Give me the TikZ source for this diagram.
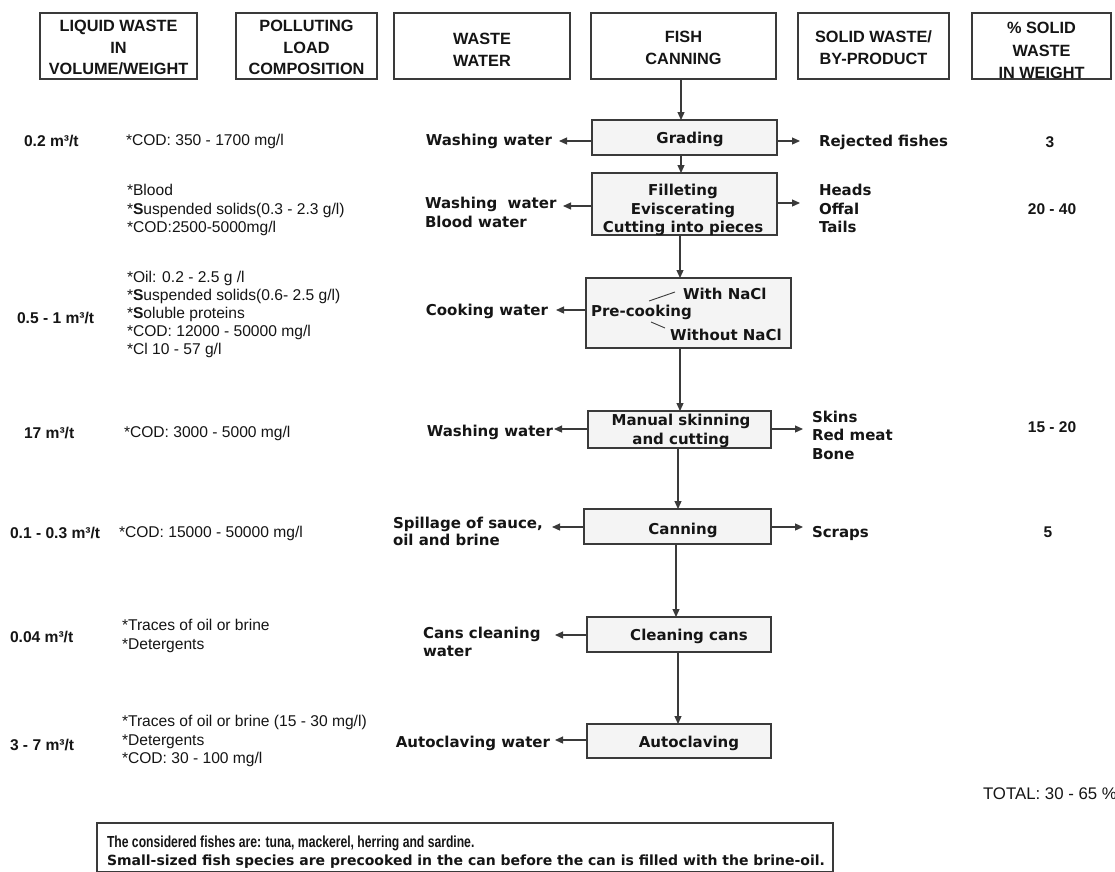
\documentclass[tikz,border=0pt]{standalone}
\usepackage{fontspec}
\setmainfont{Liberation Sans}
\newfontfamily\flowfont{DejaVu Sans}
\newfontfamily\narrowfont{Liberation Sans}[FakeStretch=0.76]
\usetikzlibrary{arrows.meta}

\definecolor{inkc}{HTML}{151515}
\definecolor{linec}{HTML}{3A3A3A}
\definecolor{boxfill}{HTML}{F4F4F4}

% type sizes (1pt = 1px of the finished picture)
\newcommand\hdrtype{\bfseries\fontsize{16.3}{21.5}\selectfont}
\newcommand\flowtype{\flowfont\bfseries\fontsize{15}{18.5}\selectfont}
\newcommand\loadtype{\fontsize{15.6}{18.2}\selectfont}
\newcommand\voltype{\bfseries\fontsize{15.6}{18}\selectfont}

\begin{document}
\begin{tikzpicture}[x=1pt,y=-1pt,
  every node/.style={inner sep=0pt, outer sep=0pt, text=inkc},
  hdrbox/.style={draw=linec, line width=1.2pt, fill=white},
  stepbox/.style={draw=linec, line width=1.2pt, fill=boxfill},
  hdrtext/.style={align=center, font=\hdrtype},
  flowlbl/.style={align=left, font=\flowtype},
  flowctr/.style={align=center, font=\flowtype},
  loadlbl/.style={align=left, anchor=west, font=\loadtype},
  vollbl/.style={anchor=west, font=\voltype},
  pctlbl/.style={font=\bfseries\fontsize{15.5}{18}\selectfont},
  arr/.style={draw=linec, line width=1.2pt, -{Triangle[length=8pt,width=7pt]}}
]
\useasboundingbox[fill=white] (0,0) rectangle (1115,871);

% ---------- column headers ----------
\node[hdrbox, minimum width=157pt, minimum height=66pt] (h1) at (118.5,46) {};
\node[hdrbox, minimum width=141pt, minimum height=66pt] (h2) at (306.5,46) {};
\node[hdrbox, minimum width=176pt, minimum height=66pt] (h3) at (482,46) {};
\node[hdrbox, minimum width=185pt, minimum height=66pt] (h4) at (683.5,46) {};
\node[hdrbox, minimum width=151pt, minimum height=66pt] (h5) at (873.5,46) {};
\node[hdrbox, minimum width=139pt, minimum height=66pt] (h6) at (1041.5,46) {};

\node[hdrtext] (h1t) at (118.5,47.5) {LIQUID WASTE\\IN\\VOLUME/WEIGHT};
\node[hdrtext] (h2t) at (306.5,47.5) {POLLUTING\\LOAD\\COMPOSITION};
\node[hdrtext] (h3t) at (482,50) {WASTE\\WATER};
\node[hdrtext] (h4t) at (683.5,48) {FISH\\CANNING};
\node[hdrtext] (h5t) at (873.5,47.5) {SOLID WASTE/\\BY-PRODUCT};
\node[hdrtext, font=\bfseries\fontsize{16.3}{22.5}\selectfont] (h6t) at (1041.5,50.5) {\% SOLID\\WASTE\\IN WEIGHT};

% ---------- process steps ----------
\node[stepbox, minimum width=185pt, minimum height=35pt] (grading) at (684.5,137.5) {};
\node[stepbox, minimum width=185pt, minimum height=62pt] (fillet) at (684.5,204) {};
\node[stepbox, minimum width=205pt, minimum height=70pt] (precook) at (688.5,313) {};
\node[stepbox, minimum width=183pt, minimum height=37pt] (skin) at (679.5,429.5) {};
\node[stepbox, minimum width=187pt, minimum height=35pt] (canning) at (677.5,526.5) {};
\node[stepbox, minimum width=184pt, minimum height=35pt] (cleaning) at (679,634.5) {};
\node[stepbox, minimum width=184pt, minimum height=34pt] (autoclave) at (679,741) {};

\node[flowctr] (gradingT) at (690,139) {Grading};
\node[flowctr] (filletT) at (683,210) {Filleting\\Eviscerating\\Cutting into pieces};
\node[flowlbl, anchor=west] (precookT) at (591,312) {Pre-cooking};
\node[flowlbl, anchor=west] (saltT) at (683,294) {With NaCl};
\node[flowlbl, anchor=west] (nosaltT) at (670,335) {Without NaCl};
\node[flowctr] (skinT) at (681,431) {Manual skinning\\and cutting};
\node[flowctr] (canningT) at (683,530) {Canning};
\node[flowctr] (cleaningT) at (689,636) {Cleaning cans};
\node[flowctr] (autoclaveT) at (689,743) {Autoclaving};

% the two pre-cooking variants
\draw[linec, line width=0.9pt] (649,301) -- (675,292);
\draw[linec, line width=0.9pt] (651,322) -- (665,328);

% main flow
\draw[arr] ([xshift=-2.5pt]h4.south) -- ([xshift=-2.5pt]h4.south |- grading.north);
\draw[arr] ([xshift=-3.5pt]grading.south) -- ([xshift=-3.5pt]grading.south |- fillet.north);
\draw[arr] ([xshift=-4.5pt]fillet.south) -- ([xshift=-4.5pt]fillet.south |- precook.north);
\draw[arr] ([xshift=-8.5pt]precook.south) -- ([xshift=-8.5pt]precook.south |- skin.north);
\draw[arr] ([xshift=-1.5pt]skin.south) -- ([xshift=-1.5pt]skin.south |- canning.north);
\draw[arr] ([xshift=-1.5pt]canning.south) -- ([xshift=-1.5pt]canning.south |- cleaning.north);
\draw[arr] ([xshift=-1pt]cleaning.south) -- ([xshift=-1pt]cleaning.south |- autoclave.north);

% ---------- waste water ----------
\coordinate (wL1) at (559,141);
\coordinate (wL2) at (563,206);
\coordinate (wL3) at (556,310);
\coordinate (wL4) at (554,429);
\coordinate (wL5) at (552,527);
\coordinate (wL6) at (555,635);
\coordinate (wL7) at (555,740);

\node[flowlbl, anchor=east] (ww1) at (552,141) {Washing water};
\node[flowlbl, anchor=west] (ww2) at (425,212.5) {Washing\ \ water\\Blood water};
\node[flowlbl, anchor=east] (ww3) at (548,311) {Cooking water};
\node[flowlbl, anchor=east] (ww4) at (553,432) {Washing water};
\node[flowlbl, anchor=west, font=\flowfont\bfseries\fontsize{15}{17}\selectfont] (ww5) at (393,531.5) {Spillage of sauce,\\oil and brine};
\node[flowlbl, anchor=west] (ww6) at (423,642) {Cans cleaning\\water};
\node[flowlbl, anchor=east] (ww7) at (550,743) {Autoclaving water};

\draw[arr] (grading.west |- wL1) -- (wL1);
\draw[arr] (fillet.west |- wL2) -- (wL2);
\draw[arr] (precook.west |- wL3) -- (wL3);
\draw[arr] (skin.west |- wL4) -- (wL4);
\draw[arr] (canning.west |- wL5) -- (wL5);
\draw[arr] (cleaning.west |- wL6) -- (wL6);
\draw[arr] (autoclave.west |- wL7) -- (wL7);

% ---------- solid waste / by-products ----------
\coordinate (sR1) at (800,141);
\coordinate (sR2) at (800,203);
\coordinate (sR3) at (803,429);
\coordinate (sR4) at (803,527);

\node[flowlbl, anchor=west] (sw1) at (819,142) {Rejected fishes};
\node[flowlbl, anchor=west] (sw2) at (819,208.5) {Heads\\Offal\\Tails};
\node[flowlbl, anchor=west] (sw3) at (812,435) {Skins\\Red meat\\Bone};
\node[flowlbl, anchor=west] (sw4) at (812,533) {Scraps};

\draw[arr] (grading.east |- sR1) -- (sR1);
\draw[arr] (fillet.east |- sR2) -- (sR2);
\draw[arr] (skin.east |- sR3) -- (sR3);
\draw[arr] (canning.east |- sR4) -- (sR4);

% ---------- percentages ----------
\node[pctlbl] (p1) at (1050,142) {3};
\node[pctlbl] (p2) at (1052,209) {20 - 40};
\node[pctlbl] (p3) at (1052,427) {15 - 20};
\node[pctlbl] (p4) at (1048,532) {5};
\node[anchor=west, font=\fontsize{16.8}{19}\selectfont] (total) at (983,794) {TOTAL: 30 - 65 \%};

% ---------- liquid waste volumes ----------
\node[vollbl] (v1) at (24,141) {0.2 m³/t};
\node[vollbl] (v2) at (17,318) {0.5 - 1 m³/t};
\node[vollbl] (v3) at (24,433) {17 m³/t};
\node[vollbl] (v4) at (10,533) {0.1 - 0.3 m³/t};
\node[vollbl] (v5) at (10,637) {0.04 m³/t};
\node[vollbl] (v6) at (10,745) {3 - 7 m³/t};

% ---------- polluting load ----------
\node[loadlbl] (c1) at (126,141) {*COD: 350 - 1700 mg/l};
\node[loadlbl] (c2) at (127,210) {*Blood\\*\textbf{S}uspended solids(0.3 - 2.3 g/l)\\*COD:2500-5000mg/l};
\node[loadlbl] (c3) at (127,314.5) {*Oil: 0.2 - 2.5 g /l\\*\textbf{S}uspended solids(0.6- 2.5 g/l)\\*\textbf{S}oluble proteins\\*COD: 12000 - 50000 mg/l\\*Cl 10 - 57 g/l};
\node[loadlbl] (c4) at (124,433) {*COD: 3000 - 5000 mg/l};
\node[loadlbl] (c5) at (119,533) {*COD: 15000 - 50000 mg/l};
\node[loadlbl] (c6) at (122,636) {*Traces of oil or brine\\*Detergents};
\node[loadlbl] (c7) at (122,741) {*Traces of oil or brine (15 - 30 mg/l)\\*Detergents\\*COD: 30 - 100 mg/l};

% ---------- note ----------
\node[hdrbox, minimum width=736pt, minimum height=49pt] (note) at (465,847.5) {};
\node[anchor=west, font=\narrowfont\bfseries\fontsize{16}{18}\selectfont] (note1) at (107,843) {The considered fishes are: tuna, mackerel, herring and sardine.};
\node[anchor=west, font=\flowfont\bfseries\fontsize{14}{18}\selectfont] (note2) at (107,862) {Small-sized fish species are precooked in the can before the can is filled with the brine-oil.};
\end{tikzpicture}
\end{document}
